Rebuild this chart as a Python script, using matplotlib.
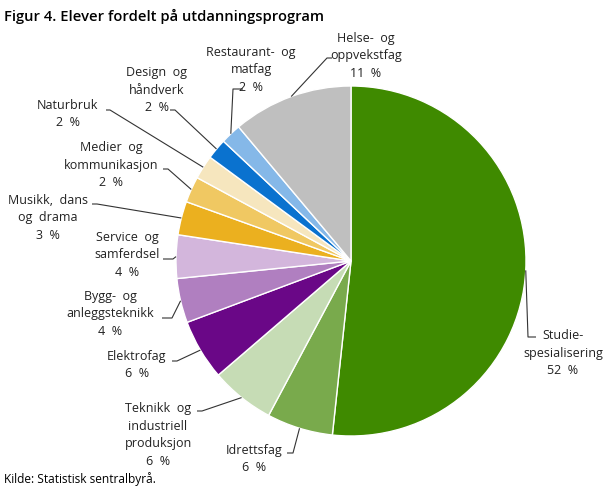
import numpy as np
import matplotlib
matplotlib.use("Agg")
import matplotlib.pyplot as plt

W, H = 609, 488

# data (share of pupils, %), clockwise from the top
programs = [
    "Studie-\nspesialisering",
    "Idrettsfag",
    "Teknikk  og\nindustriell\nproduksjon",
    "Elektrofag",
    "Bygg-  og\nanleggsteknikk",
    "Service  og\nsamferdsel",
    "Musikk,  dans\nog  drama",
    "Medier  og\nkommunikasjon",
    "Naturbruk",
    "Design  og\nhåndverk",
    "Restaurant-  og\nmatfag",
    "Helse-  og\noppvekstfag",
]
shares = [51.7, 6.1, 5.9, 5.6, 4.1, 4.0, 3.1, 2.4, 2.2, 1.9, 1.9, 11.1]
colors = ["#3f8a00", "#79aa4c", "#c6dcb5", "#6a0787", "#b07fc0", "#d3b6dc",
          "#ebb01f", "#f0c862", "#f6e6be", "#0a72cf", "#85b8e8", "#bfbfbf"]

# label layout in pixels (y measured from the top): text centre, elbow, line end
label_pos = [(563, 353), (254, 459), (158, 435), (137, 365), (110, 314), (127, 255),
             (48, 218), (111, 165), (68, 114), (157, 90), (251, 70), (366, 56)]
elbow = [(528, 337), (293, 453), (202, 411), (177, 361), (172, 318), (173, 259),
         (97, 204), (168, 169), (110, 110), (175, 110), (233, 89), (327, 58)]
line_end = [(536, 337), (287, 453), (197, 411), (172, 361), (162, 318), (163, 259),
            (92, 204), (163, 169), (106, 110), (170, 110), (243, 89), (332, 58)]

plt.rcParams['font.family'] = ['Open Sans', 'DejaVu Sans']

fig = plt.figure(figsize=(W / 100, H / 100), dpi=100)
ax = fig.add_axes([0, 0, 1, 1])

cx, cy, r = 351, H - 261, 175
wedges, _ = ax.pie(shares, colors=colors, startangle=90, counterclock=False,
                   center=(cx, cy), radius=r,
                   wedgeprops=dict(edgecolor="white", linewidth=1))

for w, name, val, lp, el, le in zip(wedges, programs, shares, label_pos, elbow, line_end):
    mid = np.deg2rad((w.theta1 + w.theta2) / 2)
    px = cx + r * np.cos(mid)
    py = cy + r * np.sin(mid)
    ax.plot([px, el[0], le[0]], [py, H - el[1], H - le[1]],
            color="#333333", lw=0.8, solid_capstyle="butt")
    ax.text(lp[0], H - lp[1], f"{name}\n{val:.0f}  %", ha="center", va="center",
            fontsize=9, color="#222222", linespacing=1.45)

ax.set_xlim(0, W)
ax.set_ylim(0, H)
ax.set_aspect("auto")
ax.axis("off")

fig.text(4 / W, 1 - 16 / H, "Figur 4. Elever fordelt på utdanningsprogram",
         fontsize=10.6, fontweight="semibold", va="center", ha="left", color="#000000")
fig.text(4 / W, 1 - 479 / H, "Kilde: Statistisk sentralbyrå.",
         fontsize=8.6, va="center", ha="left", color="#000000")

fig.savefig("out.png", dpi=100)
